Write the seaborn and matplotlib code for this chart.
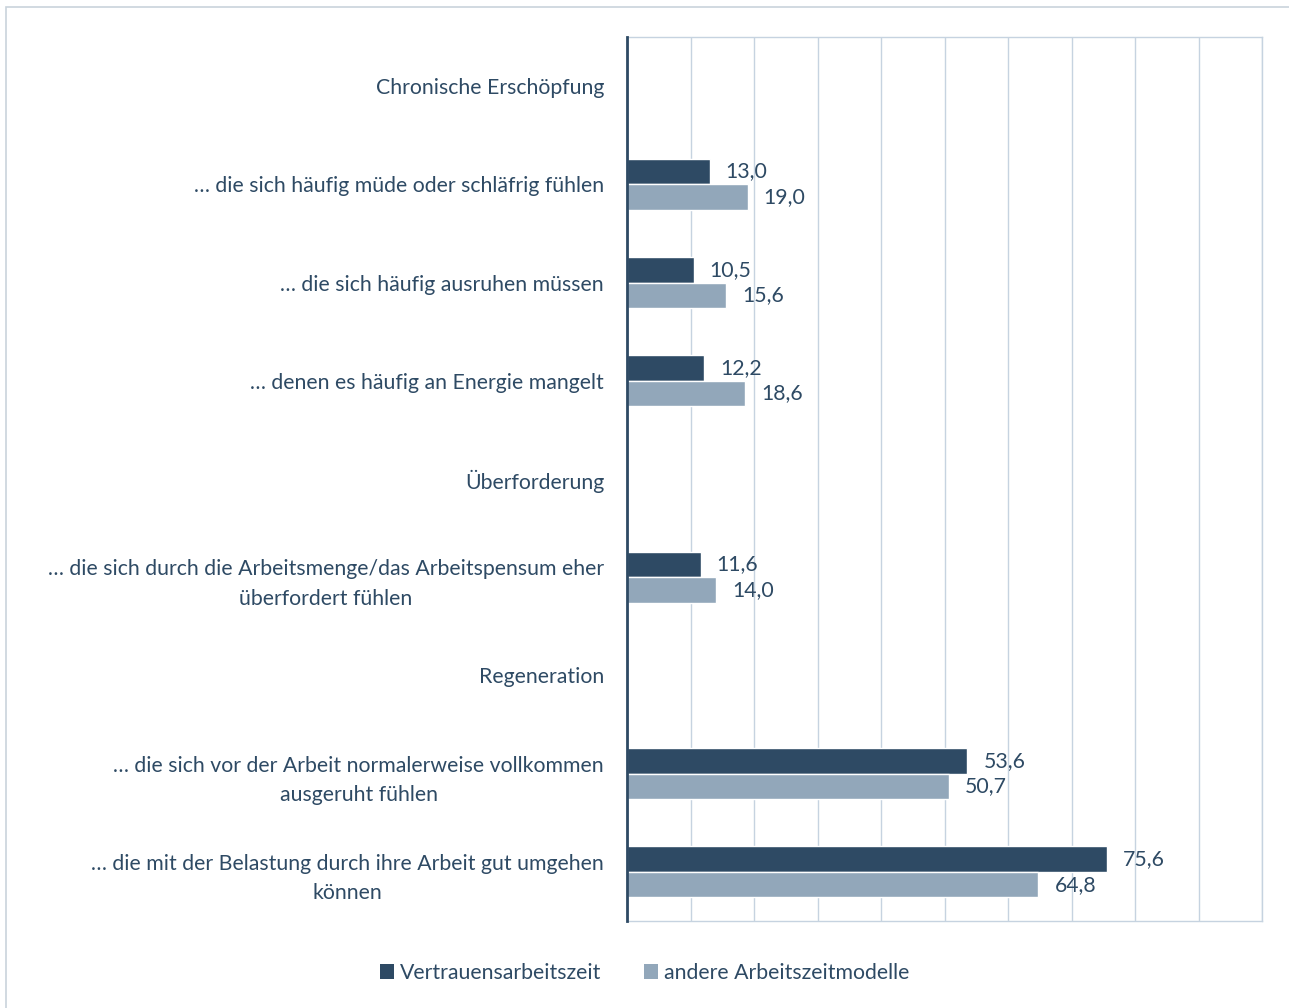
import matplotlib
matplotlib.use("Agg")
import matplotlib.pyplot as plt
from matplotlib.patches import Patch, Rectangle
import seaborn as sns
import pandas as pd
import numpy as np

categories = [
    "Chronische Erschöpfung",
    "… die sich häufig müde oder schläfrig fühlen",
    "… die sich häufig ausruhen müssen",
    "… denen es häufig an Energie mangelt",
    "Überforderung",
    "… die sich durch die Arbeitsmenge/das Arbeitspensum eher\nüberfordert fühlen",
    "Regeneration",
    "… die sich vor der Arbeit normalerweise vollkommen\nausgeruht fühlen",
    "… die mit der Belastung durch ihre Arbeit gut umgehen\nkönnen",
]
series_names = ["Vertrauensarbeitszeit", "andere Arbeitszeitmodelle"]
vertrauen = [np.nan, 13.0, 10.5, 12.2, np.nan, 11.6, np.nan, 53.6, 75.6]
andere = [np.nan, 19.0, 15.6, 18.6, np.nan, 14.0, np.nan, 50.7, 64.8]

dark = "#2E4A64"
light = "#92A7BA"
grid_c = "#C6D3E0"
text_c = "#2E4A64"
fs = 15.3

rows = []
for c, v, a in zip(categories, vertrauen, andere):
    if not np.isnan(v):
        rows.append({"cat": c, "serie": series_names[0], "val": v})
    if not np.isnan(a):
        rows.append({"cat": c, "serie": series_names[1], "val": a})
df = pd.DataFrame(rows)

sns.set_theme(style="white")
plt.rcParams["font.family"] = ["Lato", "DejaVu Sans"]

fig = plt.figure(figsize=(12.89, 10.08), dpi=100)
ax = fig.add_axes([627 / 1289, 1 - 921 / 1008, (1262 - 627) / 1289, (921 - 37) / 1008])

sns.barplot(data=df, y="cat", x="val", hue="serie", order=categories,
            hue_order=series_names, palette=[dark, light], orient="h",
            width=0.52, gap=0, ax=ax, legend=False, saturation=1, errorbar=None)

ax.set_xlim(0, 100)
ax.set_ylim(len(categories) - 0.5, -0.5)
ax.set_xticks(np.arange(0, 101, 10))
ax.set_xticklabels([])
ax.tick_params(axis="x", length=0)
ax.tick_params(axis="y", length=0, pad=16.5, labelsize=fs, labelcolor=text_c)
for lab in ax.get_yticklabels():
    lab.set_multialignment("center")
    lab.set_linespacing(1.58)
ax.xaxis.grid(True, color=grid_c, lw=1)
ax.set_axisbelow(True)
ax.set_xlabel("")
ax.set_ylabel("")
for s in ["top", "right", "bottom"]:
    ax.spines[s].set_color(grid_c)
    ax.spines[s].set_linewidth(1)
ax.spines["left"].set_color(dark)
ax.spines["left"].set_linewidth(2)
ax.spines["left"].set_zorder(5)

for cont in ax.containers:
    for bar in cont:
        w = bar.get_width()
        if np.isnan(w):
            continue
        ax.annotate(f"{w:.1f}".replace(".", ","),
                    (w, bar.get_y() + bar.get_height() / 2),
                    xytext=(11.5, 0), textcoords="offset points",
                    va="center", ha="left", fontsize=fs, color=text_c)

handles = [Patch(facecolor=dark, edgecolor="none"), Patch(facecolor=light, edgecolor="none")]
fig.legend(handles, series_names, loc="center", bbox_to_anchor=(0.5, 1 - 973 / 1008),
           ncol=2, frameon=False, fontsize=fs, labelcolor=text_c,
           handlelength=0.65, handleheight=0.65, handletextpad=0.3, columnspacing=2.0)

fig.patches.append(Rectangle((6 / 1289, -0.01), 1.05, 1 - 7 / 1008 + 0.01,
                             transform=fig.transFigure, fill=False,
                             edgecolor="#C9D3DC", lw=1.2))

fig.savefig("out.png", dpi=100, facecolor="white")
